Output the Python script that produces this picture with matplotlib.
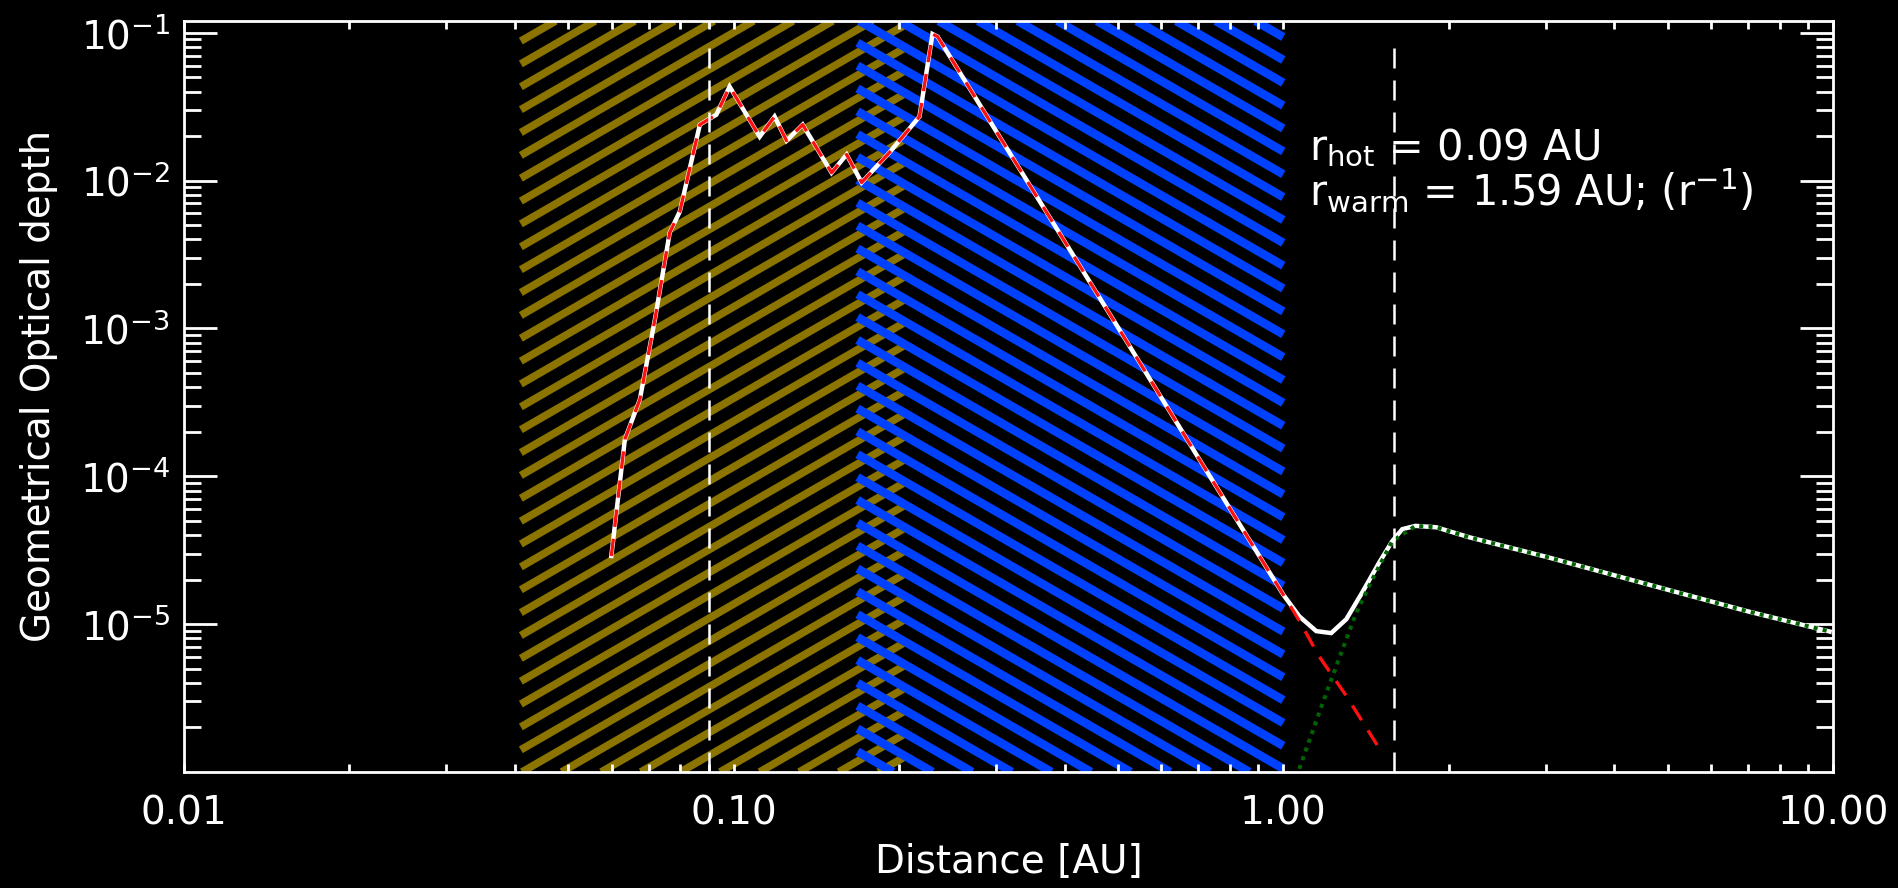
import numpy as np
import matplotlib
matplotlib.use('Agg')
import matplotlib.pyplot as plt
from matplotlib.ticker import FixedLocator, FixedFormatter, LogLocator, NullFormatter

plt.rcParams['font.family'] = ['DejaVu Sans']
plt.rcParams['mathtext.fontset'] = 'dejavusans'
plt.rcParams['mathtext.default'] = 'regular'

# hot dust component (red dashed)
r_hot = [0.0599, 0.0634, 0.0675, 0.0719, 0.0765, 0.0798, 0.0868, 0.0904, 0.0930,
         0.0983, 0.1115, 0.1187, 0.1248, 0.1335, 0.1507, 0.1605, 0.1709, 0.1921,
         0.2178, 0.2300, 0.2350, 0.30, 0.50, 0.70, 1.00, 1.07, 1.16, 1.30, 1.51]
tau_hot = [2.89e-5, 1.78e-4, 3.31e-4, 1.15e-3, 4.45e-3, 6.17e-3, 2.39e-2, 2.62e-2, 2.79e-2,
           4.32e-2, 1.98e-2, 2.71e-2, 1.86e-2, 2.39e-2, 1.13e-2, 1.50e-2, 9.7e-3, 1.55e-2,
           2.71e-2, 9.8e-2, 9.4e-2, 2.17e-2, 1.02e-3, 1.34e-4, 1.58e-5, 1.05e-5, 6.1e-6,
           3.3e-6, 1.36e-6]

# warm dust component (green dotted)
r_warm = [1.069, 1.163, 1.248, 1.358, 1.452, 1.578, 1.74, 1.897, 2.178, 3.0, 5.0, 7.0, 10.0]
tau_warm = [1.05e-6, 2.54e-6, 5.2e-6, 1.2e-5, 2.01e-5, 3.64e-5, 4.62e-5, 4.52e-5, 3.87e-5,
            2.86e-5, 1.71e-5, 1.22e-5, 8.8e-6]

# total (white), outer part beyond 1 AU
r_sum = [1.069, 1.148, 1.222, 1.302, 1.392, 1.495, 1.578, 1.646, 1.74, 1.897, 2.178,
         3.0, 5.0, 7.0, 10.0]
tau_sum = [1.13e-5, 8.97e-6, 8.7e-6, 1.08e-5, 1.64e-5, 2.62e-5, 3.64e-5, 4.39e-5, 4.62e-5,
           4.52e-5, 3.87e-5, 2.86e-5, 1.71e-5, 1.22e-5, 8.8e-6]

r_hot_mark = 0.09
r_warm_mark = 1.59
gold_zone = (0.041, 0.205)
blue_zone = (0.168, 1.0)

x_ticks = [0.01, 0.1, 1.0, 10.0]
x_labels = ['0.01', '0.10', '1.00', '10.00']
y_ticks = [1e-5, 1e-4, 1e-3, 1e-2, 1e-1]
y_labels = ['$10^{-5}$', '$10^{-4}$', '$10^{-3}$', '$10^{-2}$', '$10^{-1}$']

FS_TICK = 28
FS_LAB = 28
FS_LEG = 30
W_PX, H_PX = 1899, 888
fig = plt.figure(figsize=(W_PX / 100, H_PX / 100), dpi=100, facecolor='black')
ax = fig.add_axes([184 / W_PX, (H_PX - 772) / H_PX, (1833 - 184) / W_PX, (772 - 21) / H_PX])
ax.set_facecolor('black')
ax.set_xscale('log')
ax.set_yscale('log')
ax.set_xlim(0.01, 10.0)
ax.set_ylim(1e-6, 0.12)


def stripes(ax, zone, color, rising, x_cross, lw, step=39.6, angle=30.0):
    """Draw slanted stripes (30 deg in pixel space) inside an x-range of the axes"""
    bb = ax.get_window_extent()
    W, H = bb.width, bb.height
    xa = ax.transData.transform((zone[0], 1e-3))[0] - bb.x0
    xb = ax.transData.transform((zone[1], 1e-3))[0] - bb.x0
    m = np.tan(np.radians(angle))
    run = H / m
    k0 = int(np.floor((xa - run - x_cross) / step)) - 1
    k1 = int(np.ceil((xb + run - x_cross) / step)) + 1
    for k in range(k0, k1 + 1):
        c = x_cross + k * step
        if rising:
            s, e = max(xa, c), min(xb, c + run)
        else:
            s, e = max(xa, c - run), min(xb, c)
        if e <= s:
            continue
        xs = np.array([s, e])
        ys = m * (xs - c) if rising else m * (c - xs)
        ax.plot(xs / W, ys / H, transform=ax.transAxes, color=color, lw=lw,
                solid_capstyle='butt', clip_on=True, zorder=1)


stripes(ax, gold_zone, '#8b7400', True, 338, 5.5)
stripes(ax, blue_zone, '#0040ff', False, 709, 6.2)

# curves
r_tot = r_hot[:25] + r_sum
tau_tot = tau_hot[:25] + tau_sum
ax.plot(r_tot, tau_tot, color='white', lw=3.2, zorder=3, solid_joinstyle='miter')
ax.plot(r_hot, tau_hot, color='#ff1010', lw=2.4, dashes=(5.2, 3.6), zorder=4)
ax.plot(r_warm, tau_warm, color='#006400', lw=2.9, dashes=(1.0, 1.3), zorder=4)

# radii markers
for r in (r_hot_mark, r_warm_mark):
    ax.plot([r, r], [1e-6, 0.08], color='white', lw=1.8, dashes=(8, 4.8), zorder=5)

# axes styling
for sp in ax.spines.values():
    sp.set_color('white')
    sp.set_linewidth(2.0)
    sp.set_zorder(6)

ax.xaxis.set_major_locator(FixedLocator(x_ticks))
ax.xaxis.set_major_formatter(FixedFormatter(x_labels))
ax.xaxis.set_minor_locator(LogLocator(base=10, subs=np.arange(2, 10)))
ax.xaxis.set_minor_formatter(NullFormatter())
ax.yaxis.set_major_locator(FixedLocator(y_ticks))
ax.yaxis.set_major_formatter(FixedFormatter(y_labels))
ax.yaxis.set_minor_locator(LogLocator(base=10, subs=np.arange(2, 10), numticks=20))
ax.yaxis.set_minor_formatter(NullFormatter())

ax.tick_params(axis='x', which='both', direction='in', length=5.8, width=2.0,
               top=True, bottom=True, colors='white', labelsize=FS_TICK, pad=16)
ax.tick_params(axis='y', which='major', direction='in', length=24, width=2.0,
               left=True, right=True, colors='white', labelsize=FS_TICK, pad=10)
ax.tick_params(axis='y', which='minor', direction='in', length=12, width=2.0,
               left=True, right=True, colors='white')

fig.text(1009 / W_PX, 1 - 862 / H_PX, 'Distance [AU]', color='white', fontsize=FS_LAB,
         ha='center', va='center')
fig.text(39 / W_PX, 1 - 386 / H_PX, 'Geometrical Optical depth', color='white',
         fontsize=FS_LAB, rotation=90, ha='center', va='center')

fig.text(1309 / W_PX, 1 - 160 / H_PX, r'r$_{\rm hot}$ = 0.09 AU', color='white',
         fontsize=FS_LEG, ha='left', va='baseline', zorder=7)
fig.text(1309 / W_PX, 1 - 205 / H_PX, r'r$_{\rm warm}$ = 1.59 AU; (r$^{-1}$)',
         color='white', fontsize=FS_LEG, ha='left', va='baseline', zorder=7)

fig.savefig('out.png', dpi=100, facecolor='black')
